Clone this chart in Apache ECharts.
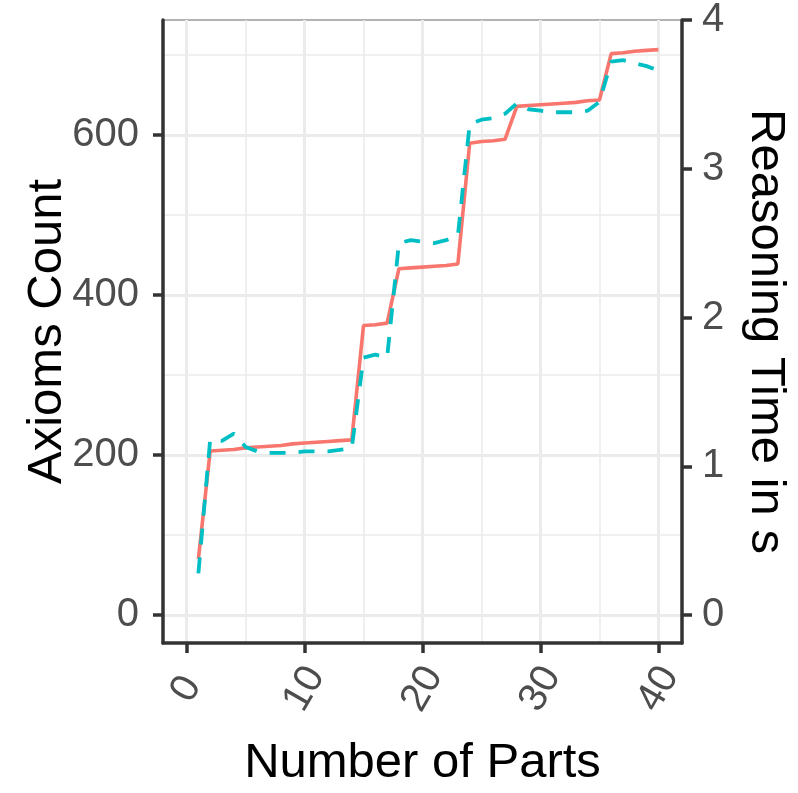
<!DOCTYPE html>
<html>
<head>
<meta charset="utf-8">
<script src="https://cdn.jsdelivr.net/npm/echarts@6/dist/echarts.min.js"></script>
<style>
  html, body { margin: 0; padding: 0; background: #fff; }
  #chart { width: 798px; height: 793px; }
</style>
</head>
<body>
<div id="chart"></div>
<script>
// number of parts (x)
var parts = [1, 2, 3, 4, 5, 6, 7, 8, 9, 10, 11, 12, 13, 14, 15, 16, 17, 18, 19, 20,
  21, 22, 23, 24, 25, 26, 27, 28, 29, 30, 31, 32, 33, 34, 35, 36, 37, 38, 39, 40];
// axioms count (left axis)
var axioms = [70, 205, 206, 207, 209, 210, 211, 212, 214, 215, 216, 217, 218, 219, 362, 363, 365, 433, 434, 435,
  436, 437, 439, 590, 592, 593, 595, 636, 637, 638, 639, 640, 641, 643, 644, 702, 703, 705, 706, 707];
// reasoning time in s (right axis)
var reasoning = [0.28, 1.18, 1.17, 1.22, 1.13, 1.10, 1.09, 1.09, 1.09, 1.10, 1.10, 1.10, 1.11, 1.12, 1.73, 1.75, 1.73, 2.50, 2.52, 2.51,
  2.50, 2.52, 2.55, 3.30, 3.33, 3.34, 3.37, 3.44, 3.40, 3.39, 3.38, 3.38, 3.38, 3.39, 3.45, 3.72, 3.73, 3.71, 3.69, 3.66];

var xTicks = [0, 10, 20, 30, 40];
var xMinor = [5, 15, 25, 35];
var leftTicks = [0, 200, 400, 600];
var leftMinor = [100, 300, 500, 700];
var rightTicks = [0, 1, 2, 3, 4];

var FONT = "Liberation Sans, Arial, sans-serif";
var leftMin = -35, leftMax = 744, ratio = 186;

var axisDark = { show: true, onZero: false, lineStyle: { color: "#333333", width: 3.5 } };
var tickDark = { show: true, length: 10, lineStyle: { color: "#333333", width: 3.5 } };
var gridMajor = { show: true, lineStyle: { color: "#EBEBEB", width: 3 } };
var gridMinor = { show: true, lineStyle: { color: "#EBEBEB", width: 1.6 } };

var chart = echarts.init(document.getElementById("chart"));

var option = {
  animation: false,
  backgroundColor: "#ffffff",
  grid: {
    left: 163,
    top: 16,
    width: 519,
    height: 628,
    show: true,
    borderColor: "#999999",
    borderWidth: 1.5,
    backgroundColor: "#ffffff",
  },
  xAxis: [
    {
      type: "value",
      min: -2,
      max: 42,
      position: "bottom",
      name: "Number of Parts",
      nameLocation: "middle",
      nameGap: 96,
      nameTextStyle: { fontFamily: FONT, fontSize: 49, color: "#000000" },
      axisLine: axisDark,
      axisTick: Object.assign({ customValues: xTicks }, tickDark),
      axisLabel: {
        customValues: xTicks,
        rotate: 60,
        align: "center",
        verticalAlign: "middle",
        margin: 46,
        fontFamily: FONT,
        fontSize: 40,
        color: "#4D4D4D",
      },
      splitLine: gridMajor,
      z: 3,
    },
    {
      type: "value",
      min: -2,
      max: 42,
      position: "bottom",
      axisLine: { show: false, onZero: false },
      axisTick: { show: false, customValues: xMinor },
      axisLabel: { show: false },
      splitLine: gridMinor,
    },
  ],
  yAxis: [
    {
      type: "value",
      min: leftMin,
      max: leftMax,
      position: "left",
      name: "Axioms Count",
      nameLocation: "middle",
      nameRotate: 90,
      nameGap: 91,
      nameMoveOverlap: false,
      nameTextStyle: { fontFamily: FONT, fontSize: 49, color: "#000000" },
      axisLine: axisDark,
      axisTick: Object.assign({ customValues: leftTicks }, tickDark),
      axisLabel: {
        customValues: leftTicks,
        margin: 24,
        fontFamily: FONT,
        fontSize: 40,
        color: "#4D4D4D",
      },
      splitLine: gridMajor,
      z: 3,
    },
    {
      type: "value",
      min: leftMin / ratio,
      max: leftMax / ratio,
      position: "right",
      name: "Reasoning Time in s",
      nameLocation: "middle",
      nameRotate: -90,
      nameGap: 59,
      nameTextStyle: { fontFamily: FONT, fontSize: 49, color: "#000000" },
      axisLine: axisDark,
      axisTick: Object.assign({ customValues: rightTicks }, tickDark),
      axisLabel: {
        customValues: rightTicks,
        margin: 20,
        fontFamily: FONT,
        fontSize: 40,
        color: "#4D4D4D",
      },
      splitLine: { show: false },
      z: 3,
    },
    {
      type: "value",
      min: leftMin,
      max: leftMax,
      position: "left",
      axisLine: { show: false, onZero: false },
      axisTick: { show: false, customValues: leftMinor },
      axisLabel: { show: false },
      splitLine: gridMinor,
    },
  ],
  series: [
    {
      name: "Axioms Count",
      type: "line",
      xAxisIndex: 0,
      yAxisIndex: 0,
      showSymbol: false,
      data: parts.map(function (p, i) { return [p, axioms[i]]; }),
      lineStyle: { color: "#F8766D", width: 3.6 },
      z: 4,
    },
    {
      name: "Reasoning Time",
      type: "line",
      xAxisIndex: 0,
      yAxisIndex: 1,
      showSymbol: false,
      data: parts.map(function (p, i) { return [p, reasoning[i]]; }),
      lineStyle: { color: "#00BFC4", width: 3.8, type: [16, 13] },
      z: 5,
    },
  ],
};

chart.setOption(option);
</script>
</body>
</html>
